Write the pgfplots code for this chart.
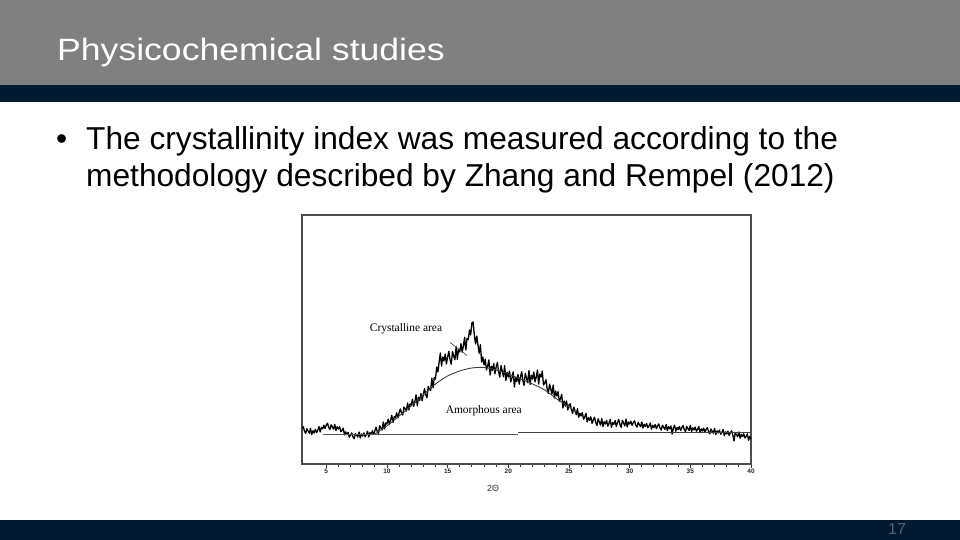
\documentclass[border=0pt]{standalone}
\usepackage{pgfplots}
\pgfplotsset{compat=1.18}
\usepackage{pgfplotstable}
\usepackage{graphicx}
\usepackage{fontspec}
\setmainfont{Liberation Sans}
\newfontfamily\chartserif{Liberation Serif}
\definecolor{titlegray}{RGB}{128,128,128}
\definecolor{navy}{RGB}{1,27,50}
\definecolor{pagenum}{RGB}{80,96,115}

\pgfplotstableread{
x y
3.0 36.6
3.1 38.3
3.2 34
3.3 31.7
3.4 36.3
3.5 34
3.6 31.8
3.7 36.6
3.8 30.4
3.9 34.2
4.0 32
4.1 35.6
4.2 32.2
4.3 34.8
4.4 38.4
4.5 33
4.6 37.6
4.7 36.2
4.8 39.8
4.9 36.4
5.0 40
5.1 41.8
5.2 37.6
5.3 35.4
5.4 40.2
5.5 38
5.6 35.8
5.7 40.6
5.8 34.4
5.9 38.2
6.0 36
6.1 38.2
6.2 33.4
6.3 34.6
6.4 36.8
6.5 30
6.6 33.2
6.7 30.4
6.8 32.6
6.9 27.8
7.0 30
7.1 32.1
7.2 28.2
7.3 26.3
7.4 31.4
7.5 30
7.6 28
7.7 33
7.8 27
7.9 31
8.0 29
8.1 32.1
8.2 28.2
8.3 30.5
8.4 33.8
8.5 28
8.6 32.4
8.7 30.8
8.8 34.2
8.9 30.6
9.0 34
9.1 37.8
9.2 33.6
9.3 31.4
9.4 39.2
9.5 37
9.6 35
9.7 43
9.8 36
9.9 42
10.0 41
10.1 45.9
10.2 40.8
10.3 44.7
10.4 49.6
10.5 42.5
10.6 48.4
10.7 47.3
10.8 52.2
10.9 47.1
11.0 52
11.1 56
11.2 52
11.3 50
11.4 58
11.5 56
11.6 54
11.7 62
11.8 55
11.9 61
12.0 60
12.1 65.8
12.2 58.6
12.3 63.4
12.4 70.2
12.5 59
12.6 67.8
12.7 64.6
12.8 71.4
12.9 64.2
13.0 71
13.1 76.4
13.2 69.8
13.3 67.2
13.4 78.6
13.5 76
13.6 74.4
13.7 86.8
13.8 77.2
13.9 87.6
14.0 86
14.1 98
14.2 93
14.3 103
14.4 112
14.5 99
14.6 108
14.7 104
14.8 111
14.9 101
15.0 108
15.1 113.6
15.2 105.2
15.3 100.8
15.4 113.4
15.5 109
15.6 105.2
15.7 118.4
15.8 105.6
15.9 115.8
16.0 113
16.1 121.4
16.2 112.8
16.3 119.2
16.4 127.6
16.5 115
16.6 126.7
16.7 125.3
16.8 135
16.9 130
17.0 142
17.1 143
17.2 130
17.3 121
17.4 129
17.5 120
17.6 111.7
17.7 120.3
17.8 103
17.9 108
18.0 100
18.1 106
18.2 95
18.3 99
18.4 105
18.5 90
18.6 98.8
18.7 94.6
18.8 101.4
18.9 91.2
19.0 98
19.1 102.6
19.2 93.2
19.3 87.8
19.4 99.4
19.5 94
19.6 88.2
19.7 99.4
19.8 84.6
19.9 92.8
20.0 88
20.1 94
20.2 83
20.3 87
20.4 93
20.5 78
20.6 87.2
20.7 83.4
20.8 90.6
20.9 80.8
21.0 88
21.1 93.2
21.2 84.4
21.3 79.6
21.4 91.8
21.5 87
21.6 82.2
21.7 94.4
21.8 80.6
21.9 89.8
22.0 86
22.1 93
22.2 83
22.3 88
22.4 95
22.5 81
22.6 91
22.7 88
22.8 94
22.9 80
23.0 82
23.1 85.2
23.2 76.4
23.3 71.6
23.4 80.8
23.5 76
23.6 71
23.7 80
23.8 67
23.9 74
24.0 69
24.1 73.4
24.2 63.8
24.3 66.2
24.4 70.6
24.5 57
24.6 64
24.7 59
24.8 64
24.9 55
25.0 60
25.1 61.2
25.2 55.4
25.3 51.6
25.4 57.8
25.5 54
25.6 50.2
25.7 56.4
25.8 47.6
25.9 51.8
26.0 49
26.1 52.4
26.2 45.8
26.3 48.2
26.4 51.6
26.5 43
26.6 47.4
26.7 44.8
26.8 48.2
26.9 41.6
27.0 45
27.1 47.8
27.2 42.6
27.3 39.4
27.4 46.2
27.5 43
27.6 39.8
27.7 46.6
27.8 38.4
27.9 43.2
28.0 41
28.1 44.8
28.2 38.8
28.3 41.8
28.4 45.7
28.5 37.5
28.6 42.5
28.7 40.5
28.8 44.5
28.9 38.5
29.0 42.5
29.1 45.5
29.2 40.6
29.3 37.6
29.4 44.7
29.5 42
29.6 39
29.7 46
29.8 38
29.9 43
30.0 41
30.1 43.8
30.2 39.6
30.3 42.4
30.4 44.2
30.5 40
30.6 37.8
30.7 42.6
30.8 40.4
30.9 38.2
31.0 43
31.1 36.9
31.2 40.7
31.3 38.6
31.4 41.4
31.5 37.3
31.6 39.1
31.7 42
31.8 35.8
31.9 39.7
32.0 37.5
32.1 40.4
32.2 36.3
32.3 39.2
32.4 41.1
32.5 37
32.6 34.9
32.7 39.8
32.8 37.7
32.9 35.6
33.0 40.5
33.1 34.4
33.2 38.3
33.3 36.2
33.4 39.1
33.5 31
33.6 36.9
33.7 39.8
33.8 33.7
33.9 37.6
34.0 35.5
34.1 38.5
34.2 34.5
34.3 37.5
34.4 39.5
34.5 35.5
34.6 33.5
34.7 38.5
34.8 36.5
34.9 34.5
35.0 39.5
35.1 33.4
35.2 37.2
35.3 35.1
35.4 37.9
35.5 33.8
35.6 35.6
35.7 38.5
35.8 32.3
35.9 36.2
36.0 34
36.1 36.9
36.2 32.7
36.3 35.6
36.4 37.4
36.5 33.3
36.6 31.1
36.7 36
36.8 33.8
36.9 31.7
37.0 36.5
37.1 30.4
37.2 34.2
37.3 32.1
37.4 34.9
37.5 30.8
37.6 32.6
37.7 35.5
37.8 29.3
37.9 33.2
38.0 31
38.1 33.8
38.2 29.6
38.3 32.4
38.4 34.2
38.5 30
38.6 24
38.7 32.6
38.8 30.4
38.9 28.2
39.0 33
39.1 26.8
39.2 30.6
39.3 28.4
39.4 31.2
39.5 27
39.6 28.6
39.7 31.2
39.8 24.8
39.9 28.4
40.0 26
}\scan

\begin{document}
\begin{tikzpicture}[x=1bp,y=1bp]
\useasboundingbox (0,0) rectangle (960,540);
\fill[white] (0,0) rectangle (960,540);
% title bar
\fill[titlegray] (0,455) rectangle (960,540);
\fill[navy] (0,438) rectangle (960,455);
\node[anchor=base west, inner sep=0, text=white, font=\fontsize{31}{31}\selectfont] at (57,479) {\scalebox{1.152}[1]{Physicochemical studies}};
% bullet text
\node[anchor=base west, inner sep=0, font=\fontsize{31.8}{31.8}\selectfont] at (56,390) {\textbullet};
\node[anchor=base west, inner sep=0, font=\fontsize{31.8}{31.8}\selectfont] at (86,390) {The crystallinity index was measured according to the};
\node[anchor=base west, inner sep=0, font=\fontsize{31.8}{31.8}\selectfont] at (86,353) {methodology described by Zhang and Rempel (2012)};
% footer
\fill[navy] (0,0) rectangle (960,20);
\node[anchor=base, inner sep=0, text=pagenum, font=\fontsize{16}{16}\selectfont] at (897,5) {17};

\begin{axis}[
  at={(302bp,76bp)}, anchor=south west,
  scale only axis, width=449bp, height=249bp,
  xmin=3, xmax=40, ymin=1, ymax=250,
  axis line style={draw=black!70, line width=1.1bp},
  xtick={5,10,...,40}, minor x tick num=4, ytick=\empty,
  tick align=outside, xtick pos=bottom,
  major tick length=4bp, minor tick length=3bp,
  every tick/.style={black!80, line width=0.9bp},
  xticklabel style={font=\fontsize{6.5}{6.5}\selectfont\bfseries, text=black!85, inner sep=1bp},
  /pgf/number format/assume math mode=true,
  clip=false,
]
\addplot[black, line width=1.3bp, line join=round] table[x=x, y=y] {\scan};
% amorphous fit
\addplot[black!75, line width=0.9bp, smooth] coordinates {
(9.0,31) (10,39) (11,49) (12,59) (13,70) (14,81) (15,89) (16,94) (17,97) (18,97.5) (19,95) (20,91) (21,86) (22,81) (23,75) (24,66) (25,58) (25.6,53)
};
% baseline
\addplot[black!65, line width=0.9bp] coordinates {(4.7,30.5) (20.8,30.5)};
\addplot[black!75, line width=0.9bp] coordinates {(20.8,32.1) (40,32.1)};
% tangent marker
\addplot[black!70, line width=0.7bp] coordinates {(15.2,122.5) (16.6,109.5)};
\node[font=\chartserif\fontsize{11.5}{11.5}\selectfont] at (axis cs:11.57,135.8) {Crystalline area};
\node[font=\chartserif\fontsize{11.5}{11.5}\selectfont] at (axis cs:17.98,54) {Amorphous area};
\node[font=\fontsize{9}{9}\selectfont, text=black!80] at (axis cs:18.75,-23.7) {2Θ};
\end{axis}
\end{tikzpicture}
\end{document}
